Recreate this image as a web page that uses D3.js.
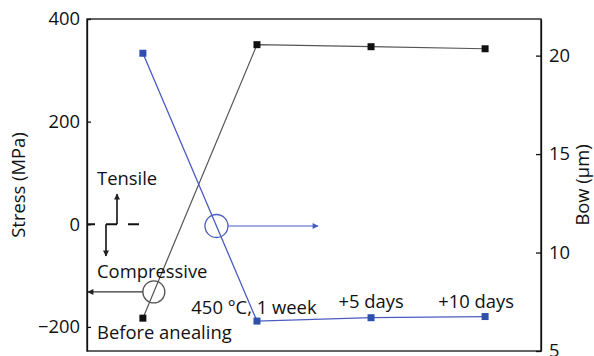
<!DOCTYPE html>
<html>
<head>
<meta charset="utf-8">
<script src="https://cdn.jsdelivr.net/npm/d3@7"></script>
<style>
  html, body { margin: 0; padding: 0; background: #fff; }
  svg { display: block; }
  text { font-family: "Open Sans", "DejaVu Sans", sans-serif; fill: #111; }
</style>
</head>
<body>
<svg id="chart" width="594" height="356"></svg>
<script>
// Annealing stages along the x axis
const stages = ["Before anealing", "450 °C, 1 week", "+5 days", "+10 days"];
// Residual stress (MPa), left axis
const stress = [-183, 350, 346, 342];
// Wafer bow (µm), right axis
const bow = [20.12, 6.52, 6.69, 6.75];
// Axis ticks
const stressTicks = [-200, 0, 200, 400];
const bowTicks = [5, 10, 15, 20];

const svg = d3.select("#chart");
const m = { left: 87, right: 541, top: 19, bottom: 351 };

const x = d3.scalePoint().domain(d3.range(stages.length)).range([m.left, m.right]).padding(0.49);
const yS = d3.scaleLinear().domain([-247, 400]).range([m.bottom, m.top]);
const yB = d3.scaleLinear().domain([5, 21.86]).range([m.bottom, m.top]);

const FS = 18.4;
const blue = "#4a5cc0";
const blueMark = "#2e50ac";
const grey = "#555";

// arrowheads
const defs = svg.append("defs");
function arrowMarker(id, color) {
  defs.append("marker").attr("id", id)
    .attr("viewBox", "0 0 10 10").attr("refX", 9).attr("refY", 5)
    .attr("markerWidth", 7).attr("markerHeight", 6).attr("orient", "auto")
    .attr("markerUnits", "userSpaceOnUse")
    .append("path").attr("d", "M0,0 L10,5 L0,10 Z").attr("fill", color);
}
arrowMarker("arrBlack", "#222");
arrowMarker("arrBlue", blue);

// frame
svg.append("rect")
  .attr("x", m.left).attr("y", m.top)
  .attr("width", m.right - m.left).attr("height", m.bottom - m.top)
  .attr("fill", "none").attr("stroke", "#111").attr("stroke-width", 1.3);

// left axis
const axL = svg.append("g").attr("transform", `translate(${m.left},0)`)
  .call(d3.axisLeft(yS).tickValues(stressTicks).tickSizeInner(-4).tickSizeOuter(0).tickPadding(7)
    .tickFormat(d => d < 0 ? "\u2212" + Math.abs(d) : d));
axL.select(".domain").attr("stroke", "#111").attr("stroke-width", 1.3);
axL.selectAll(".tick line").attr("stroke", "#111").attr("stroke-width", 1.3);
axL.selectAll(".tick text").style("font-size", FS + "px").style("font-family", null).attr("fill", "#111");

// right axis
const axR = svg.append("g").attr("transform", `translate(${m.right},0)`)
  .call(d3.axisRight(yB).tickValues(bowTicks).tickSizeInner(-5).tickSizeOuter(0).tickPadding(8));
axR.select(".domain").attr("stroke", "#111").attr("stroke-width", 1.3);
axR.selectAll(".tick line").attr("stroke", "#111").attr("stroke-width", 1.3);
axR.selectAll(".tick text").style("font-size", FS + "px").style("font-family", null).attr("fill", "#111");

// axis titles
svg.append("text")
  .attr("transform", `translate(19,${(m.top + m.bottom) / 2}) rotate(-90)`)
  .attr("text-anchor", "middle").attr("dy", "0.35em")
  .style("font-size", FS + "px").text("Stress (MPa)");
svg.append("text")
  .attr("transform", `translate(583,${(m.top + m.bottom) / 2}) rotate(-90)`)
  .attr("text-anchor", "middle").attr("dy", "0.35em")
  .style("font-size", FS + "px").text("Bow (μm)");

// stress line + markers
const idx = d3.range(stages.length);
svg.append("path")
  .attr("d", d3.line().x(i => x(i)).y(i => yS(stress[i]))(idx))
  .attr("fill", "none").attr("stroke", grey).attr("stroke-width", 1.2);
svg.selectAll(".ms").data(idx).join("rect")
  .attr("x", i => x(i) - 3.5).attr("y", i => yS(stress[i]) - 3.5)
  .attr("width", 7).attr("height", 7).attr("fill", "#111");

// bow line + markers
svg.append("path")
  .attr("d", d3.line().x(i => x(i)).y(i => yB(bow[i]))(idx))
  .attr("fill", "none").attr("stroke", blue).attr("stroke-width", 1.3);
svg.selectAll(".mb").data(idx).join("rect")
  .attr("x", i => x(i) - 3.5).attr("y", i => yB(bow[i]) - 3.5)
  .attr("width", 7).attr("height", 7).attr("fill", blueMark);

// series pointers: circle on each line with an arrow to its axis
const xAt = t => x(0) + t * (x(1) - x(0));
const cS = { x: xAt(0.096), y: yS(stress[0] + 0.096 * (stress[1] - stress[0])) };
svg.append("circle").attr("cx", cS.x).attr("cy", cS.y).attr("r", 11)
  .attr("fill", "none").attr("stroke", grey).attr("stroke-width", 1.3);
svg.append("line").attr("x1", cS.x - 11).attr("y1", cS.y).attr("x2", m.left + 1).attr("y2", cS.y)
  .attr("stroke", "#333").attr("stroke-width", 1.2).attr("marker-end", "url(#arrBlack)");

const tB = 0.645;
const cB = { x: xAt(tB), y: yB(bow[0] + tB * (bow[1] - bow[0])) };
svg.append("circle").attr("cx", cB.x).attr("cy", cB.y).attr("r", 11.5)
  .attr("fill", "none").attr("stroke", blue).attr("stroke-width", 1.3);
svg.append("line").attr("x1", cB.x + 11.5).attr("y1", cB.y).attr("x2", 318).attr("y2", cB.y)
  .attr("stroke", blue).attr("stroke-width", 1.2).attr("marker-end", "url(#arrBlue)");

// tensile / compressive sign key at zero stress
const y0 = yS(0);
const key = svg.append("g").attr("stroke", "#111").attr("stroke-width", 2);
key.append("line").attr("x1", m.left).attr("x2", 95).attr("y1", y0).attr("y2", y0);
key.append("line").attr("x1", 106).attr("x2", 117).attr("y1", y0).attr("y2", y0);
key.append("line").attr("x1", 128).attr("x2", 139).attr("y1", y0).attr("y2", y0);
key.append("line").attr("x1", 117).attr("x2", 117).attr("y1", y0).attr("y2", 194)
  .attr("stroke-width", 1.6).attr("marker-end", "url(#arrBlack)");
key.append("line").attr("x1", 106).attr("x2", 106).attr("y1", y0).attr("y2", 256)
  .attr("stroke-width", 1.6).attr("marker-end", "url(#arrBlack)");

svg.append("text").attr("x", 97).attr("y", 185).style("font-size", FS + "px").text("Tensile");
svg.append("text").attr("x", 97).attr("y", 278).style("font-size", FS + "px").text("Compressive");

// stage labels
const labelLayout = [
  { anchor: "start", x: () => 97, y: () => 339 },
  { anchor: "middle", x: i => x(i) - 3, y: i => yB(bow[i]) - 7 },
  { anchor: "middle", x: i => x(i), y: i => yB(bow[i]) - 10 },
  { anchor: "middle", x: i => x(i) - 9, y: i => yB(bow[i]) - 9 }
];
svg.selectAll(".stage").data(idx).join("text")
  .attr("text-anchor", i => labelLayout[i].anchor)
  .attr("x", i => labelLayout[i].x(i))
  .attr("y", i => labelLayout[i].y(i))
  .style("font-size", FS + "px")
  .text(i => stages[i]);
</script>
</body>
</html>
